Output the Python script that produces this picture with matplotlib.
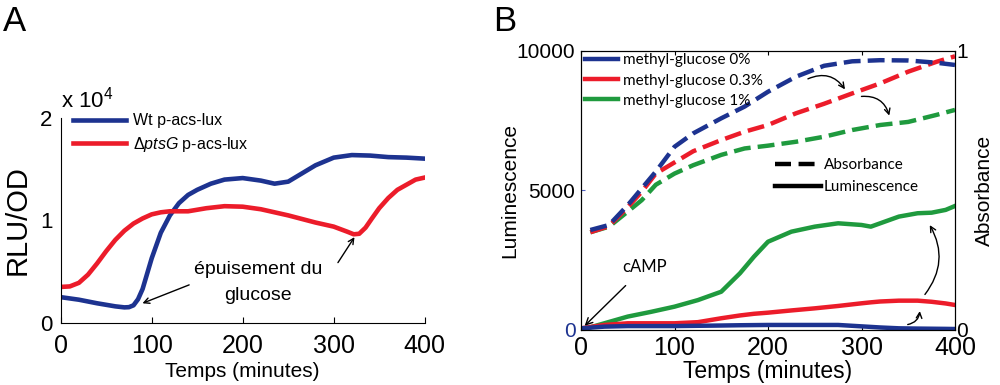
import numpy as np
import matplotlib
matplotlib.use('Agg')
import matplotlib.pyplot as plt
from matplotlib.lines import Line2D

plt.rcParams['font.family'] = ['Liberation Sans', 'DejaVu Sans']
plt.rcParams['mathtext.fontset'] = 'custom'
plt.rcParams['mathtext.rm'] = 'Liberation Sans'
plt.rcParams['mathtext.it'] = 'Liberation Sans:italic'

BLUE = '#1d3390'
RED = '#ec1c2a'
GREEN = '#1f9a3e'

# ---- panel A data (RLU/OD, x 1e4) ----
a_x_wt = [0, 20, 40, 60, 70, 75, 80, 85, 90, 100, 110, 120, 130, 140, 150, 165,
          180, 200, 220, 235, 250, 265, 280, 300, 320, 340, 360, 380, 400]
a_wt = [0.25, 0.225, 0.19, 0.16, 0.15, 0.152, 0.17, 0.23, 0.33, 0.63, 0.88,
        1.05, 1.17, 1.25, 1.30, 1.36, 1.40, 1.415, 1.39, 1.36, 1.38, 1.46, 1.54,
        1.615, 1.64, 1.635, 1.62, 1.615, 1.605]
a_x_pts = [0, 10, 20, 30, 40, 50, 60, 70, 80, 90, 100, 110, 120, 140, 160, 180,
           200, 220, 250, 280, 300, 315, 322, 328, 335, 342, 350, 360, 370, 380,
           390, 400]
a_pts = [0.35, 0.355, 0.39, 0.47, 0.58, 0.70, 0.81, 0.90, 0.97, 1.02, 1.06, 1.08,
         1.09, 1.09, 1.12, 1.14, 1.135, 1.11, 1.05, 0.98, 0.94, 0.89, 0.865,
         0.87, 0.93, 1.02, 1.12, 1.22, 1.30, 1.35, 1.40, 1.42]

# ---- panel B data ----
b_x_abs = [10, 30, 50, 65, 80, 100, 120, 150, 175, 200, 230, 260, 290, 320,
           350, 380, 400]
abs_0 = [0.358, 0.376, 0.447, 0.507, 0.567, 0.656, 0.704, 0.758, 0.80, 0.853,
         0.907, 0.946, 0.962, 0.966, 0.965, 0.957, 0.949]
abs_03 = [0.35, 0.372, 0.44, 0.495, 0.56, 0.60, 0.64, 0.68, 0.71, 0.734, 0.776,
          0.81, 0.847, 0.883, 0.925, 0.96, 0.98]
abs_1 = [0.35, 0.37, 0.424, 0.465, 0.52, 0.56, 0.59, 0.627, 0.65, 0.66, 0.674,
         0.692, 0.716, 0.734, 0.745, 0.77, 0.788]

b_x_lum = [0, 25, 50, 75, 100, 125, 150, 170, 185, 200, 225, 250, 275, 300, 310,
           320, 340, 360, 375, 390, 400]
lum_0 = [60, 120, 140, 140, 140, 150, 160, 170, 175, 180, 180, 180, 180, 130,
         110, 90, 60, 50, 45, 40, 35]
lum_03 = [60, 180, 240, 240, 240, 280, 420, 520, 580, 620, 700, 775, 860, 955,
          990, 1020, 1050, 1050, 1010, 950, 895]
lum_1 = [0, 240, 480, 650, 835, 1070, 1370, 2030, 2625, 3160, 3520, 3700, 3820,
         3760, 3700, 3820, 4060, 4180, 4200, 4300, 4440]

fig = plt.figure(figsize=(10, 3.85), dpi=100)

# ================= panel A =================
axA = fig.add_axes([0.0607, 0.1618, 0.364, 0.531])
l1, = axA.plot(a_x_wt, a_wt, color=BLUE, lw=3.3, solid_joinstyle='round')
l2, = axA.plot(a_x_pts, a_pts, color=RED, lw=3.3, solid_joinstyle='round')
axA.set_xlim(0, 400)
axA.set_ylim(0, 2)
axA.set_xticks([0, 100, 200, 300, 400])
axA.set_yticks([0, 1, 2])
axA.spines['top'].set_visible(False)
axA.spines['right'].set_visible(False)
axA.tick_params(axis='x', direction='in', labelsize=18, pad=8, length=4)
axA.tick_params(axis='y', direction='in', labelsize=16, pad=6, length=0)
axA.set_xlabel('Temps (minutes)', fontsize=15, labelpad=3)
axA.set_ylabel('RLU/OD', fontsize=21, labelpad=6)
axA.text(0.0, 1.03, r'x 10$^4$', transform=axA.transAxes, fontsize=16,
         ha='left', va='bottom')
axA.legend([l1, l2], ['Wt p-acs-lux', r'$\Delta\mathit{ptsG}$ p-acs-lux'],
           loc='upper left', bbox_to_anchor=(0.035, 1.025), frameon=False,
           fontsize=11.5, handlelength=3.3, handletextpad=0.4,
           labelspacing=0.4, borderpad=0, borderaxespad=0)
axA.text(217, 0.52, 'épuisement du', fontsize=14, ha='center', va='center')
axA.text(217, 0.27, 'glucose', fontsize=14, ha='center', va='center')
axA.annotate('', xy=(87, 0.18), xytext=(144, 0.38),
             arrowprops=dict(arrowstyle='->', color='black', lw=1))
axA.annotate('', xy=(324.5, 0.86), xytext=(303, 0.565),
             arrowprops=dict(arrowstyle='->', color='black', lw=1))
fig.text(0.003, 0.943, 'A', fontsize=25, ha='left', va='center')

# ================= panel B =================
axB = fig.add_axes([0.581, 0.1429, 0.374, 0.7254])
axB2 = axB.twinx()
dash = (3.8, 1.6)
axB2.plot(b_x_abs, abs_0, color=BLUE, lw=3.2, ls=(0, dash), zorder=3)
axB2.plot(b_x_abs, abs_03, color=RED, lw=3.2, ls=(0, dash), zorder=2)
axB2.plot(b_x_abs, abs_1, color=GREEN, lw=3.2, ls=(0, dash), zorder=1)
axB.plot(b_x_lum, lum_1, color=GREEN, lw=3.2)
axB.plot(b_x_lum, lum_03, color=RED, lw=3.2)
axB.plot(b_x_lum, lum_0, color=BLUE, lw=3.2)

axB.set_xlim(0, 400)
axB.set_ylim(0, 10000)
axB2.set_ylim(0, 1)
axB.set_xticks([0, 100, 200, 300, 400])
axB.set_yticks([0, 5000, 10000])
axB2.set_yticks([0, 1])
axB.tick_params(axis='x', direction='in', top=True, labelsize=18, pad=4, length=3)
axB.tick_params(axis='y', direction='in', labelsize=15, pad=4, length=3,
                color='#5060c0')
axB2.tick_params(axis='y', direction='in', labelsize=15, pad=1, length=0)
axB.get_yticklabels()[0].set_color(BLUE)
axB.set_xlabel('Temps (minutes)', fontsize=16.5, labelpad=0)
axB.set_ylabel('Luminescence', fontsize=15, labelpad=-2)
axB2.set_ylabel('Absorbance', fontsize=15, labelpad=5)

hB = [Line2D([], [], color=c, lw=3.2) for c in (BLUE, RED, GREEN)]
legB = axB2.legend(hB, ['methyl-glucose 0%', 'methyl-glucose 0.3%',
                        'methyl-glucose 1%'],
                   loc='upper left', bbox_to_anchor=(0.01, 0.99), frameon=False,
                   prop={'family': 'Lato', 'size': 11}, handlelength=2.2,
                   handletextpad=0.3, labelspacing=0.4, borderpad=0,
                   borderaxespad=0)
axB2.add_artist(legB)
hS = [Line2D([], [], color='black', lw=3.2, ls=(0, (3.6, 1.7))),
      Line2D([], [], color='black', lw=3.2)]
axB2.legend(hS, ['Absorbance', 'Luminescence'], loc='upper left',
            bbox_to_anchor=(0.52, 0.615), frameon=False,
            prop={'family': 'Lato', 'size': 11}, handlelength=3.0,
            handletextpad=0.15, labelspacing=0.5, borderpad=0, borderaxespad=0)

arr = dict(arrowstyle='->', color='black', lw=1)
axB2.annotate('cAMP', xy=(1.8, 80), xytext=(68, 2255), xycoords=axB.transData,
              textcoords=axB.transData, fontsize=12, family='Lato',
              ha='center', va='center', arrowprops=dict(arr, shrinkA=8))
axB2.annotate('', xy=(284, 8532), xytext=(240, 8951), xycoords=axB.transData,
              textcoords=axB.transData,
              arrowprops=dict(arr, connectionstyle='arc3,rad=-0.45'))
axB2.annotate('', xy=(330.5, 7580), xytext=(297, 8353), xycoords=axB.transData,
              textcoords=axB.transData,
              arrowprops=dict(arr, connectionstyle='arc3,rad=-0.45'))
axB2.annotate('', xy=(371.5, 3842), xytext=(366, 1193), xycoords=axB.transData,
              textcoords=axB.transData,
              arrowprops=dict(arr, connectionstyle='arc3,rad=0.35'))
axB2.annotate('', xy=(362.5, 776), xytext=(346.5, 179), xycoords=axB.transData,
              textcoords=axB.transData,
              arrowprops=dict(arr, connectionstyle='arc3,rad=0.45'))
fig.text(0.493, 0.943, 'B', fontsize=25, ha='left', va='center')

fig.savefig('out.png', dpi=100)
